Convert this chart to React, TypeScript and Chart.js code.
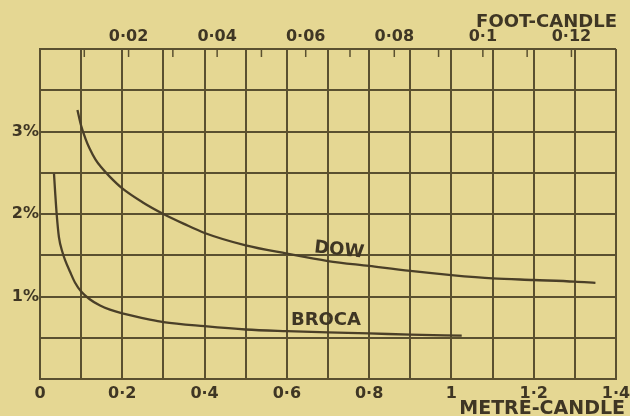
import React, { useEffect, useRef } from "react";
import { Chart, registerables } from "chart.js";

Chart.register(...registerables);

// Data (x in metre-candles / lux, y in %)
const dowLux = [0.091, 0.1, 0.11, 0.12, 0.135, 0.15, 0.17, 0.2, 0.25, 0.3, 0.35, 0.4, 0.5, 0.6, 0.7, 0.8, 0.9, 1.0, 1.1, 1.2, 1.3, 1.35];
const dowPct = [3.26, 3.07, 2.92, 2.8, 2.66, 2.56, 2.45, 2.31, 2.14, 2.0, 1.88, 1.77, 1.62, 1.52, 1.43, 1.37, 1.31, 1.26, 1.22, 1.2, 1.18, 1.165];

const brocaLux = [0.034, 0.037, 0.0405, 0.046, 0.055, 0.061, 0.073, 0.085, 0.1, 0.12, 0.146, 0.17, 0.2, 0.267, 0.3, 0.4, 0.5, 0.6, 0.7, 0.8, 0.9, 1.025];
const brocaPct = [2.49, 2.25, 2.0, 1.72, 1.53, 1.44, 1.3, 1.17, 1.06, 0.97, 0.89, 0.84, 0.795, 0.72, 0.69, 0.64, 0.6, 0.58, 0.565, 0.553, 0.537, 0.525];

const metreTickLabels = ["0", "0·2", "0·4", "0·6", "0·8", "1", "1·2", "1·4"];
const footTickLabels = ["0·02", "0·04", "0·06", "0·08", "0·1", "0·12"];
const pctTickLabels = ["1%", "2%", "3%"];

const LUX_PER_FC = 10.764;
const X_MAX = 1.4;
const Y_MAX = 4;

const BG = "#e5d793";
const GRID = "#5a5030";
const INK = "#3f3624";
const LINE = "#4a3f28";
const FONT = "'DejaVu Sans', sans-serif";

const paperPlugin = {
  id: "paper",
  beforeDraw(chart: any) {
    const { ctx, width, height } = chart;
    ctx.save();
    ctx.fillStyle = BG;
    ctx.fillRect(0, 0, width, height);
    ctx.restore();
  },
  afterDraw(chart: any) {
    const { ctx, chartArea } = chart;
    const x = chart.scales.x;
    const y = chart.scales.y;
    const x2 = chart.scales.x2;
    ctx.save();
    // inward foot-candle ticks on top edge
    ctx.strokeStyle = GRID;
    ctx.lineWidth = 1.5;
    for (const t of x2.ticks) {
      if (t.value <= 0 || t.value > 0.125) continue;
      const px = x2.getPixelForValue(t.value);
      ctx.beginPath();
      ctx.moveTo(px, chartArea.top);
      ctx.lineTo(px, chartArea.top + 8);
      ctx.stroke();
    }
    ctx.fillStyle = INK;
    ctx.textBaseline = "middle";
    // axis titles
    ctx.font = `bold 18px ${FONT}`;
    ctx.textAlign = "right";
    ctx.fillText("FOOT-CANDLE", chartArea.right + 1, 22);
    ctx.font = `bold 19px ${FONT}`;
    ctx.fillText("METRE-CANDLE", chartArea.right + 9, 409);
    // curve labels
    ctx.textAlign = "center";
    ctx.font = `bold 18px ${FONT}`;
    ctx.save();
    ctx.translate(x.getPixelForValue(0.727), y.getPixelForValue(1.56));
    ctx.rotate(0.11);
    ctx.fillText("DOW", 0, 0);
    ctx.restore();
    ctx.fillText("BROCA", x.getPixelForValue(0.695), y.getPixelForValue(0.715));
    ctx.restore();
  },
};

export default function App() {
  const ref = useRef<HTMLCanvasElement>(null);
  useEffect(() => {
    document.body.style.margin = "0";
    document.body.style.background = BG;
    const lineStyle = {
      showLine: true,
      borderColor: LINE,
      borderWidth: 2.3,
      pointRadius: 0,
      fill: false,
      cubicInterpolationMode: "monotone" as const,
    };
    const chart = new Chart(ref.current!, {
      type: "scatter",
      data: {
        datasets: [
          { label: "DOW", data: dowLux.map((v, i) => ({ x: v, y: dowPct[i] })), ...lineStyle },
          { label: "BROCA", data: brocaLux.map((v, i) => ({ x: v, y: brocaPct[i] })), ...lineStyle },
        ],
      },
      options: {
        animation: false,
        responsive: false,
        devicePixelRatio: 1,
        layout: { padding: { left: 0, right: 14, top: 0, bottom: 0 } },
        plugins: { legend: { display: false }, tooltip: { enabled: false } },
        scales: {
          x: {
            type: "linear",
            position: "bottom",
            min: 0,
            max: X_MAX,
            afterFit: (s: any) => { s.height = 37; s.paddingLeft = 0; s.paddingRight = 0; },
            ticks: {
              stepSize: 0.1,
              autoSkip: false,
              maxRotation: 0,
              padding: 5,
              color: INK,
              font: { family: FONT, size: 16, weight: "bold" },
              callback: (v: any) => {
                const i = Math.round(Number(v) * 10);
                return i % 2 === 0 ? metreTickLabels[i / 2] ?? "" : "";
              },
            },
            grid: { color: GRID, lineWidth: 2, drawTicks: false },
            border: { color: GRID, width: 2 },
          },
          x2: {
            type: "linear",
            position: "top",
            min: 0,
            max: X_MAX / LUX_PER_FC,
            afterFit: (s: any) => { s.height = 49; s.paddingLeft = 0; s.paddingRight = 0; },
            ticks: {
              stepSize: 0.01,
              autoSkip: false,
              maxRotation: 0,
              padding: 3,
              color: INK,
              font: { family: FONT, size: 16, weight: "bold" },
              callback: (v: any) => {
                const n = Number(v) * 100;
                const i = Math.round(n);
                if (Math.abs(n - i) > 1e-6) return "";
                return i % 2 === 0 && i >= 2 && i <= 12 ? footTickLabels[i / 2 - 1] : "";
              },
            },
            grid: { display: false, drawOnChartArea: false, drawTicks: false },
            border: { display: false },
          },
          y: {
            type: "linear",
            min: 0,
            max: Y_MAX,
            afterFit: (s: any) => { s.width = 40; s.paddingTop = 0; s.paddingBottom = 0; },
            ticks: {
              stepSize: 0.5,
              padding: 1,
              color: INK,
              font: { family: FONT, size: 16, weight: "bold" },
              callback: (v: any) => {
                const i = Math.round(Number(v) * 2);
                return i % 2 === 0 && i >= 2 && i <= 6 ? pctTickLabels[i / 2 - 1] : "";
              },
            },
            grid: { color: GRID, lineWidth: 2, drawTicks: false },
            border: { color: GRID, width: 2 },
          },
        },
      },
      plugins: [paperPlugin],
    } as any);
    return () => chart.destroy();
  }, []);
  return (
    <div style={{ width: 630, height: 416 }}>
      <canvas ref={ref} width={630} height={416} style={{ display: "block" }} />
    </div>
  );
}
